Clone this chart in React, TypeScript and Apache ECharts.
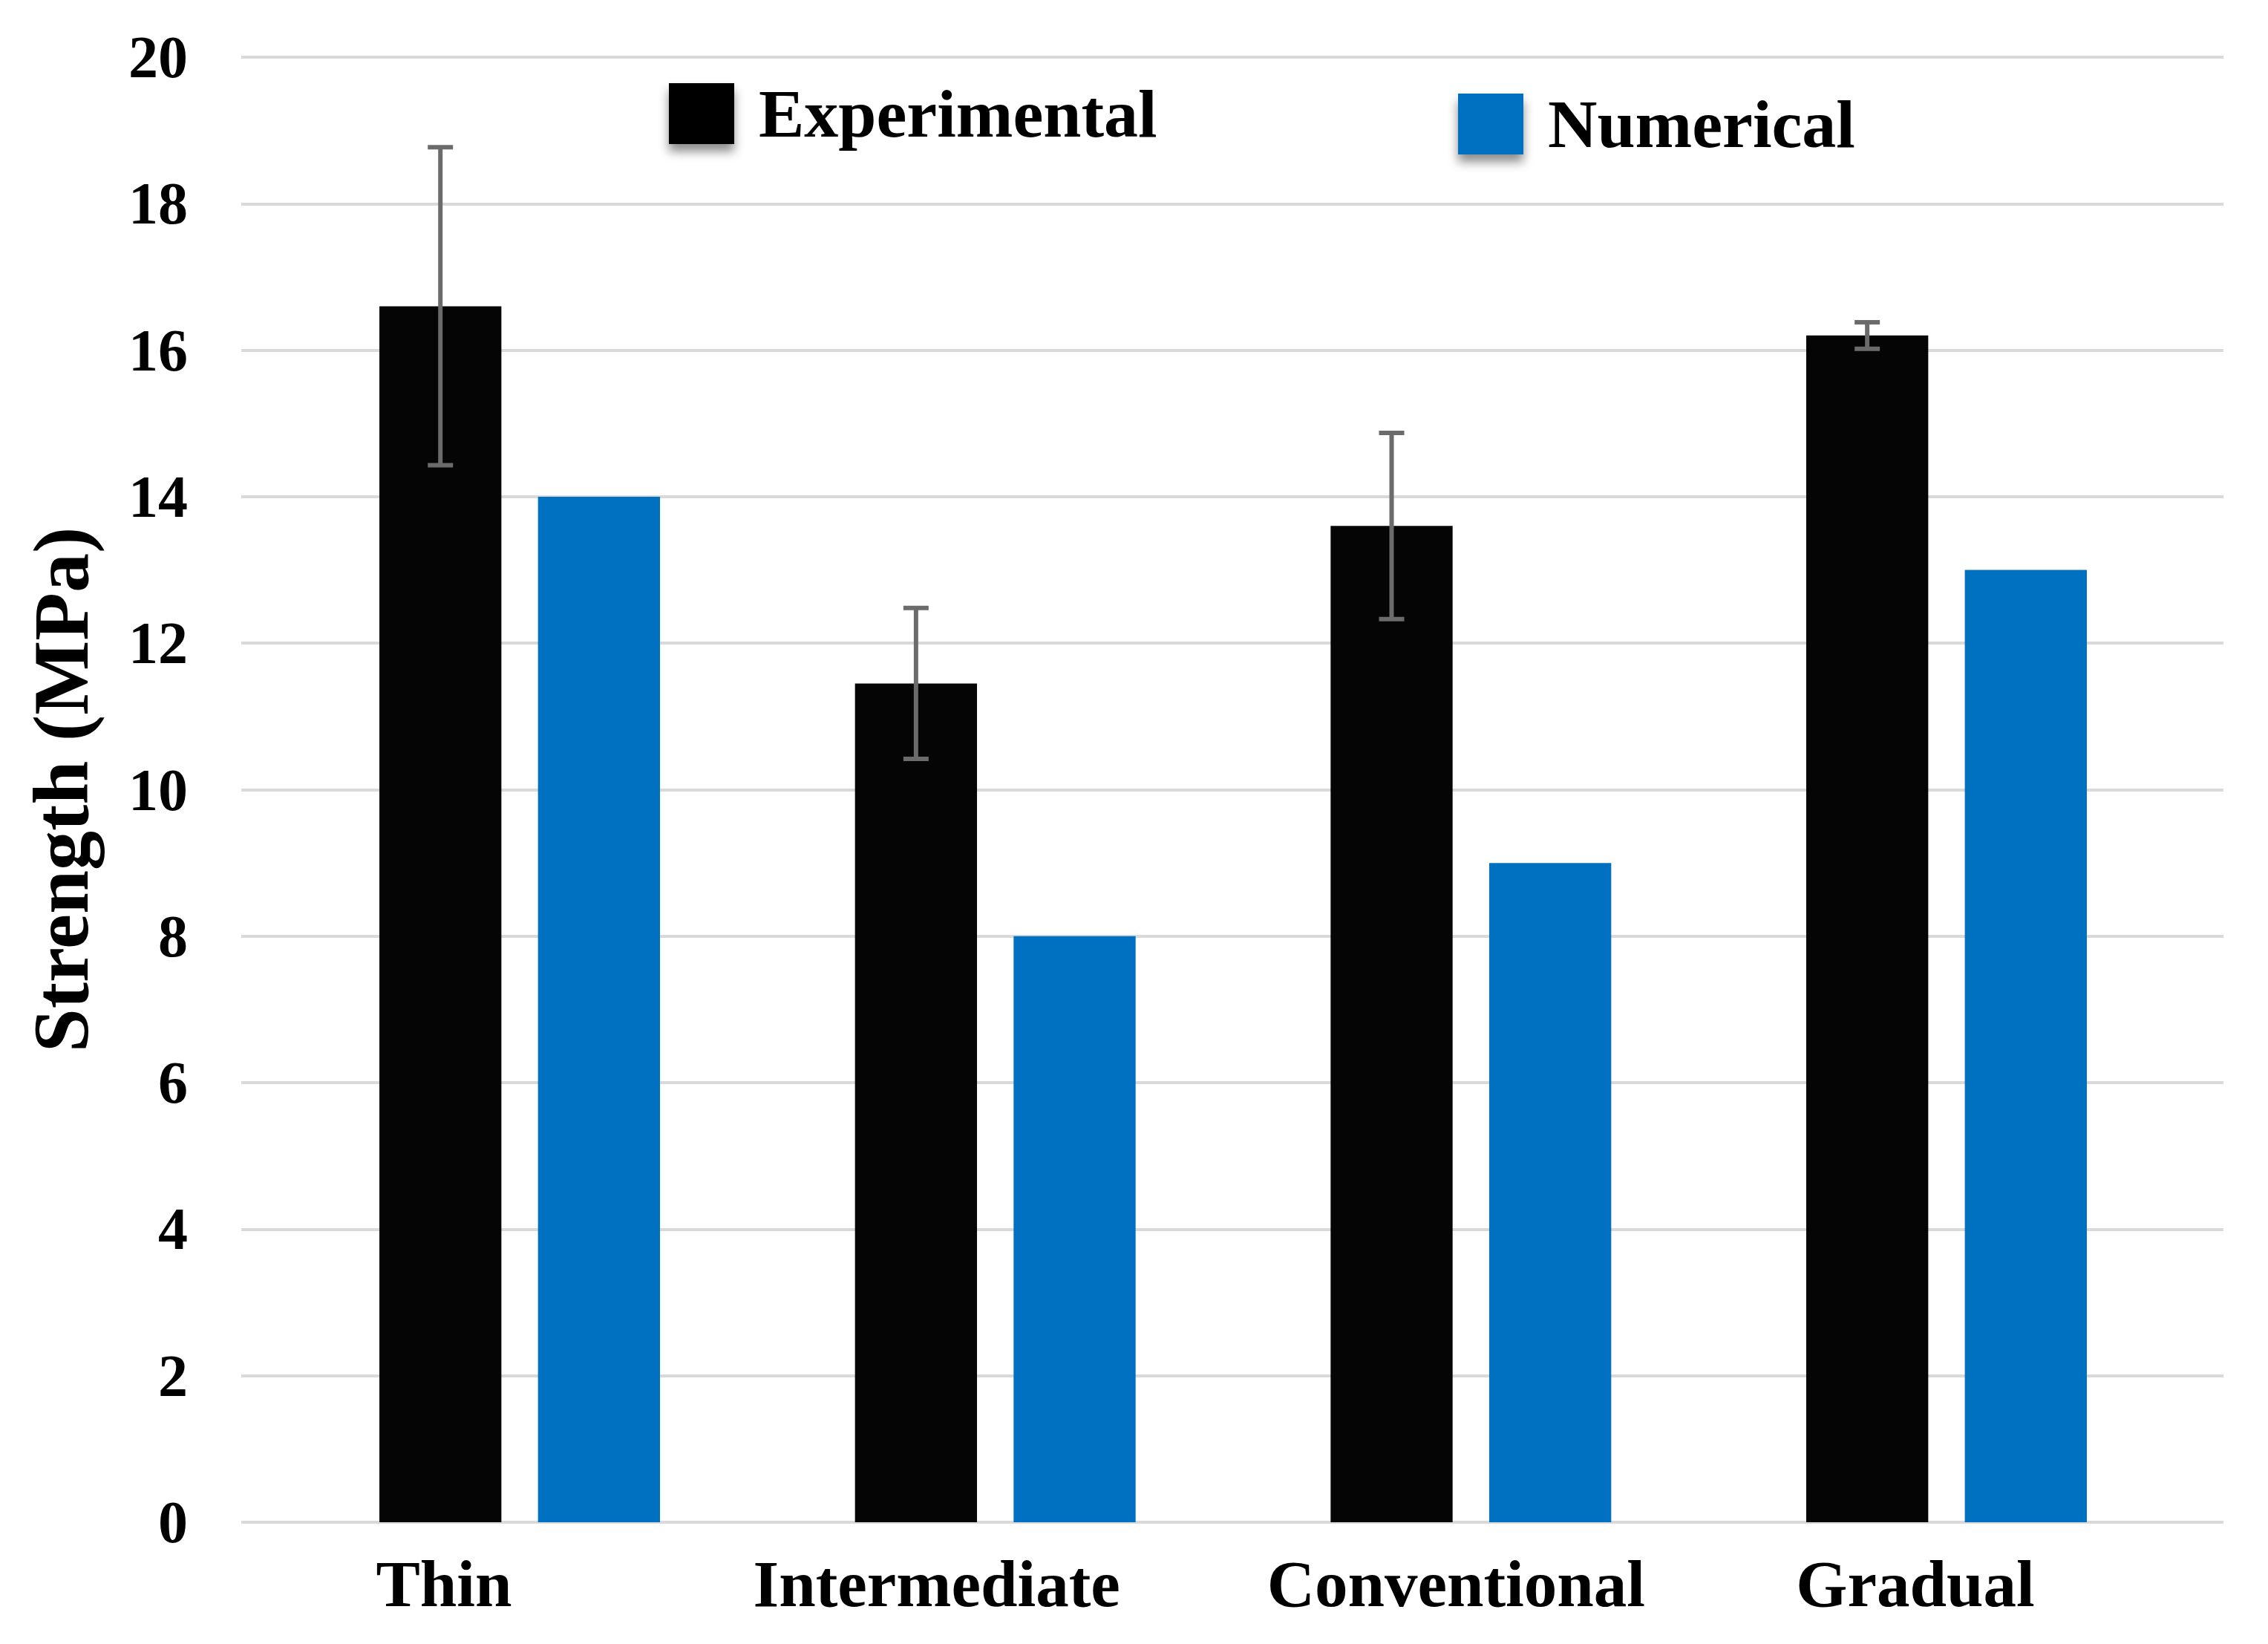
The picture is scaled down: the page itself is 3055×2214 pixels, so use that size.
import React, { useEffect, useRef } from "react";
import * as echarts from "echarts";

const categories = ["Thin", "Intermediate", "Conventional", "Gradual"];
const experimental = [16.6, 11.45, 13.6, 16.2];
const experimentalError = [2.17, 1.03, 1.27, 0.18];
const numerical = [14, 8, 9, 13];
const yMin = 0;
const yMax = 20;
const yStep = 2;

// layout (style) constants
const labelShift = [-102, -79, -20, -42];
const CAT_GAP = 0.41;
const BAR_GAP = 0.3;
const FONT = "'Liberation Serif', 'Times New Roman', serif";

export default function App() {
  const ref = useRef<HTMLDivElement>(null);
  useEffect(() => {
    document.body.style.margin = "0";
    const chart = echarts.init(ref.current!, null, { renderer: "svg" });
    const errData = categories.map((_, i) => [i, experimental[i], experimentalError[i]]);
    const legendBase = {
      padding: 0,
      itemWidth: 88,
      itemHeight: 82,
      icon: "rect",
      itemStyle: { shadowBlur: 14, shadowColor: "rgba(0,0,0,0.45)", shadowOffsetY: 10 },
      textStyle: { fontSize: 92, fontWeight: "bold", color: "#000", fontFamily: FONT, padding: [0, 0, 0, 28] },
    };
    chart.setOption({
      animation: false,
      backgroundColor: "#ffffff",
      textStyle: { fontFamily: FONT },
      grid: [
        { left: 325, right: 60, top: 77, bottom: 164 },
        { left: 379.7, right: 112.7, top: 77, bottom: 164 },
      ],
      legend: [
        { ...legendBase, data: ["Experimental"], left: 901, top: 107 },
        { ...legendBase, data: ["Numerical"], left: 1964, top: 121 },
      ],
      xAxis: [
        {
          type: "category",
          gridIndex: 0,
          data: categories,
          show: false,
        },
        {
          type: "category",
          gridIndex: 1,
          data: categories.map((c, i) => ({
            value: c,
            textStyle: {
              padding: labelShift[i] < 0 ? [0, -2 * labelShift[i], 0, 0] : [0, 0, 0, 2 * labelShift[i]],
            },
          })),
          axisLine: { show: false },
          axisTick: { show: false },
          splitLine: { show: false },
          axisLabel: {
            interval: 0,
            margin: 38,
            fontSize: 89,
            fontWeight: "bold",
            color: "#000",
            fontFamily: FONT,
          },
        },
      ],
      yAxis: [
        {
          type: "value",
          gridIndex: 0,
          min: yMin,
          max: yMax,
          interval: yStep,
          name: "Strength (MPa)",
          nameLocation: "middle",
          nameGap: 190,
          nameTextStyle: { fontSize: 106, fontWeight: "bold", color: "#000", fontFamily: FONT },
          axisLine: { show: false },
          axisTick: { show: false },
          axisLabel: { margin: 72, fontSize: 80, fontWeight: "bold", color: "#000", fontFamily: FONT },
          splitLine: { show: true, lineStyle: { color: "#d9d9d9", width: 4 } },
        },
        {
          type: "value",
          gridIndex: 1,
          min: yMin,
          max: yMax,
          interval: yStep,
          show: false,
          splitLine: { show: false },
        },
      ],
      series: [
        {
          name: "Experimental",
          type: "bar",
          xAxisIndex: 1,
          yAxisIndex: 1,
          data: experimental,
          barCategoryGap: CAT_GAP * 100 + "%",
          barGap: BAR_GAP * 100 + "%",
          itemStyle: { color: "#050505" },
        },
        {
          name: "Numerical",
          type: "bar",
          xAxisIndex: 1,
          yAxisIndex: 1,
          data: numerical,
          barCategoryGap: CAT_GAP * 100 + "%",
          barGap: BAR_GAP * 100 + "%",
          itemStyle: { color: "#0070C0" },
        },
        {
          name: "err",
          type: "custom",
          xAxisIndex: 1,
          yAxisIndex: 1,
          z: 10,
          data: errData,
          renderItem: (params: any, api: any) => {
            const x = api.value(0);
            const v = api.value(1);
            const e = api.value(2);
            const band = api.size([1, 0])[0];
            const bw = (band * (1 - CAT_GAP)) / (2 + BAR_GAP);
            const off = -(bw * (1 + BAR_GAP)) / 2;
            const top = api.coord([x, v + e]);
            const bot = api.coord([x, v - e]);
            const cx = top[0] + off;
            const cap = 17;
            const style = { stroke: "#6b6b6b", lineWidth: 6 };
            return {
              type: "group",
              children: [
                { type: "line", shape: { x1: cx, y1: top[1], x2: cx, y2: bot[1] }, style },
                { type: "line", shape: { x1: cx - cap, y1: top[1], x2: cx + cap, y2: top[1] }, style },
                { type: "line", shape: { x1: cx - cap, y1: bot[1], x2: cx + cap, y2: bot[1] }, style },
              ],
            };
          },
        },
      ],
    });
    return () => chart.dispose();
  }, []);
  return <div ref={ref} style={{ width: 3055, height: 2214 }} />;
}
